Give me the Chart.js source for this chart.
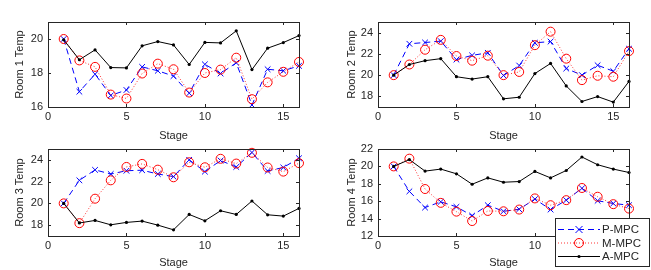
<!DOCTYPE html>
<html>
<head>
<meta charset="utf-8">
<script src="https://cdn.jsdelivr.net/npm/chart.js@4.4.1/dist/chart.umd.min.js"></script>
<style>
  body { margin: 0; background: #fff; }
  #wrap { position: relative; width: 651px; height: 270px; overflow: hidden; }
  canvas { position: absolute; }
</style>
</head>
<body>
<div id="wrap">
  <canvas id="c1" width="325" height="150" style="left:0;top:0"></canvas>
  <canvas id="c2" width="326" height="150" style="left:325px;top:0"></canvas>
  <canvas id="c3" width="325" height="140" style="left:0;top:130px"></canvas>
  <canvas id="c4" width="326" height="140" style="left:325px;top:130px"></canvas>
</div>
<script>
// data
const stages = [1, 2, 3, 4, 5, 6, 7, 8, 9, 10, 11, 12, 13, 14, 15, 16];
const xTicks = [0, 5, 10, 15];
const seriesNames = ['P-MPC', 'M-MPC', 'A-MPC'];

const p1 = [20, 16.9, 17.93, 16.68, 17.0, 18.36, 18.13, 17.82, 16.81, 18.51, 17.97, 18.6, 16.12, 18.22, 18.13, 18.42];
const m1 = [20, 18.74, 18.36, 16.73, 16.5, 17.97, 18.55, 18.22, 16.85, 18.0, 18.2, 18.9, 16.46, 17.45, 18.07, 18.65];
const a1 = [19.95, 18.78, 19.36, 18.32, 18.3, 19.6, 19.85, 19.65, 18.5, 19.8, 19.77, 20.48, 18.2, 19.46, 19.79, 20.2];

const p2 = [20, 22.95, 23.07, 23.2, 21.46, 21.86, 22.1, 19.97, 20.9, 23.04, 23.16, 20.62, 20.0, 20.93, 20.37, 22.48];
const m2 = [20, 21.0, 22.39, 23.32, 21.8, 21.36, 21.83, 20.0, 20.3, 22.82, 24.09, 21.55, 19.53, 19.94, 19.85, 22.26];
const a2 = [20, 21.0, 21.36, 21.55, 19.85, 19.63, 19.85, 17.77, 17.92, 20.15, 21.1, 18.98, 17.52, 17.98, 17.46, 19.41];

const p3 = [20, 22.12, 23.08, 22.7, 23.0, 23.05, 22.7, 22.46, 24.0, 22.92, 23.94, 23.35, 24.68, 22.98, 23.3, 24.15];
const m3 = [20, 18.18, 20.43, 22.12, 23.35, 23.63, 23.1, 22.4, 23.78, 23.32, 24.1, 23.66, 24.65, 23.3, 22.92, 23.7];
const a3 = [20, 18.2, 18.43, 18.03, 18.25, 18.37, 18.0, 17.57, 18.98, 18.4, 19.32, 18.98, 20.22, 18.95, 18.83, 19.54];

const p4 = [20, 17.13, 15.27, 15.93, 15.35, 14.34, 15.54, 14.84, 15.08, 16.24, 15.04, 16.12, 17.48, 16.05, 15.74, 15.54];
const m4 = [20, 20.89, 17.4, 15.81, 14.8, 13.72, 14.88, 14.84, 15.04, 16.32, 15.54, 16.12, 17.52, 16.51, 15.66, 15.15];
const a4 = [20, 20.78, 19.46, 19.69, 19.15, 17.95, 18.68, 18.18, 18.26, 19.42, 18.68, 19.53, 21.08, 20.19, 19.69, 19.3];

const yTicks1 = [16, 18, 20];
const yTicks2 = [18, 20, 22, 24];
const yTicks3 = [18, 20, 22, 24];
const yTicks4 = [12, 14, 16, 18, 20, 22];

const ink = '#262626';
const font = { family: 'Liberation Sans, Arial, sans-serif', size: 11 };

// axes box with inward ticks, matlab style
const frame = {
  id: 'frame',
  afterDatasetsDraw(chart) {
    const { ctx, chartArea: a, scales: { x, y } } = chart;
    ctx.save();
    ctx.strokeStyle = ink;
    ctx.lineWidth = 1;
    ctx.beginPath();
    x.ticks.forEach(t => {
      const px = Math.round(x.getPixelForValue(t.value)) + 0.5;
      ctx.moveTo(px, a.bottom); ctx.lineTo(px, a.bottom - 3);
      ctx.moveTo(px, a.top); ctx.lineTo(px, a.top + 3);
    });
    y.ticks.forEach(t => {
      const py = Math.round(y.getPixelForValue(t.value)) + 0.5;
      ctx.moveTo(a.left, py); ctx.lineTo(a.left + 3, py);
      ctx.moveTo(a.right, py); ctx.lineTo(a.right - 3, py);
    });
    ctx.stroke();
    ctx.strokeRect(Math.round(a.left) + 0.5, Math.round(a.top) + 0.5,
      Math.round(a.right - a.left), Math.round(a.bottom - a.top));
    ctx.restore();
  }
};

function drawMarker(ctx, kind, x, y) {
  ctx.beginPath();
  if (kind === 0) {
    ctx.strokeStyle = '#0000ff';
    ctx.moveTo(x - 3.5, y - 3.5); ctx.lineTo(x + 3.5, y + 3.5);
    ctx.moveTo(x - 3.5, y + 3.5); ctx.lineTo(x + 3.5, y - 3.5);
    ctx.stroke();
  } else if (kind === 1) {
    ctx.strokeStyle = '#ff0000';
    ctx.arc(x, y, 4.5, 0, Math.PI * 2);
    ctx.stroke();
  } else {
    ctx.fillStyle = '#000';
    ctx.arc(x, y, 1.6, 0, Math.PI * 2);
    ctx.fill();
  }
}

// legend box sitting over the bottom right corner
const legendBox = {
  id: 'legendBox',
  afterDraw(chart) {
    const ctx = chart.ctx;
    const bx = 230.5, by = 88.5, bw = 94, bh = 48;
    const rows = [99.5, 113, 126.5];
    ctx.save();
    ctx.fillStyle = '#fff';
    ctx.fillRect(bx, by, bw, bh);
    ctx.strokeStyle = ink;
    ctx.lineWidth = 1;
    ctx.strokeRect(bx, by, bw, bh);
    const dashes = [[6, 4], [1, 2], []];
    const colors = ['#0000ff', '#ff0000', '#000000'];
    rows.forEach((ry, i) => {
      ctx.setLineDash(dashes[i]);
      ctx.strokeStyle = colors[i];
      ctx.lineWidth = i === 1 ? 0.8 : 1;
      ctx.beginPath();
      ctx.moveTo(233, ry); ctx.lineTo(275, ry);
      ctx.stroke();
      ctx.setLineDash([]);
      ctx.lineWidth = 1;
      drawMarker(ctx, i, 254, ry);
      ctx.fillStyle = ink;
      ctx.font = '11.5px ' + font.family;
      ctx.textBaseline = 'middle';
      ctx.fillText(seriesNames[i], 277, ry + 0.5);
    });
    ctx.restore();
  }
};

function pts(vals) {
  return vals.map((v, i) => ({ x: stages[i], y: v }));
}

function makeChart(id, p, m, a, yMin, yMax, yTicks, label, lay, extra) {
  const ctx = document.getElementById(id).getContext('2d');
  return new Chart(ctx, {
    type: 'line',
    data: {
      datasets: [{
        label: seriesNames[0],
        data: pts(p),
        borderColor: '#0000ff',
        borderWidth: 1,
        borderDash: [6, 4],
        pointStyle: 'crossRot',
        pointRadius: 4,
        pointBorderColor: '#0000ff',
        pointBorderWidth: 1,
        order: 3
      }, {
        label: seriesNames[1],
        data: pts(m),
        borderColor: '#ff0000',
        borderWidth: 0.8,
        borderDash: [1, 2],
        pointStyle: 'circle',
        pointRadius: 4.5,
        pointBackgroundColor: 'rgba(0,0,0,0)',
        pointBorderColor: '#ff0000',
        pointBorderWidth: 1,
        order: 2
      }, {
        label: seriesNames[2],
        data: pts(a),
        borderColor: '#000000',
        borderWidth: 1,
        pointStyle: 'circle',
        pointRadius: 1.6,
        pointBackgroundColor: '#000000',
        pointBorderWidth: 0,
        order: 1
      }]
    },
    options: {
      responsive: false,
      animation: false,
      clip: false,
      layout: { padding: lay.pad },
      plugins: { legend: { display: false }, tooltip: { enabled: false } },
      elements: { line: { tension: 0 } },
      scales: {
        x: {
          type: 'linear',
          min: 0,
          max: 16,
          afterBuildTicks: s => { s.ticks = xTicks.map(v => ({ value: v })); },
          afterFit: s => { s.height = lay.xh; },
          grid: { display: false, drawTicks: false },
          border: { display: false },
          ticks: { padding: 3.5, font, color: ink, maxRotation: 0, autoSkip: false },
          title: { display: true, text: 'Stage', font, color: ink, padding: { top: 0, bottom: lay.tb } }
        },
        y: {
          type: 'linear',
          min: yMin,
          max: yMax,
          afterBuildTicks: s => { s.ticks = yTicks.map(v => ({ value: v })); },
          afterFit: s => { s.width = lay.yw; },
          grid: { display: false, drawTicks: false },
          border: { display: false },
          ticks: { padding: 5, font, color: ink, autoSkip: false },
          title: { display: true, text: label, font, color: ink, padding: { top: lay.tp, bottom: 0 } }
        }
      }
    },
    plugins: extra ? [frame, extra] : [frame]
  });
}

makeChart('c1', p1, m1, a1, 16, 21, yTicks1, 'Room 1 Temp',
  { pad: { top: 22, right: 26, bottom: 0, left: 0 }, yw: 48, xh: 43, tb: 7.7, tp: 13.4 });
makeChart('c2', p2, m2, a2, 17, 25, yTicks2, 'Room 2 Temp',
  { pad: { top: 22, right: 22, bottom: 0, left: 0 }, yw: 53, xh: 43, tb: 7.7, tp: 20 });
makeChart('c3', p3, m3, a3, 17, 25, yTicks3, 'Room 3 Temp',
  { pad: { top: 19, right: 26, bottom: 0, left: 0 }, yw: 48, xh: 34, tb: 0, tp: 13.4 });
makeChart('c4', p4, m4, a4, 12, 22, yTicks4, 'Room 4 Temp',
  { pad: { top: 19, right: 22, bottom: 0, left: 0 }, yw: 53, xh: 34, tb: 0, tp: 20 }, legendBox);
</script>
</body>
</html>
